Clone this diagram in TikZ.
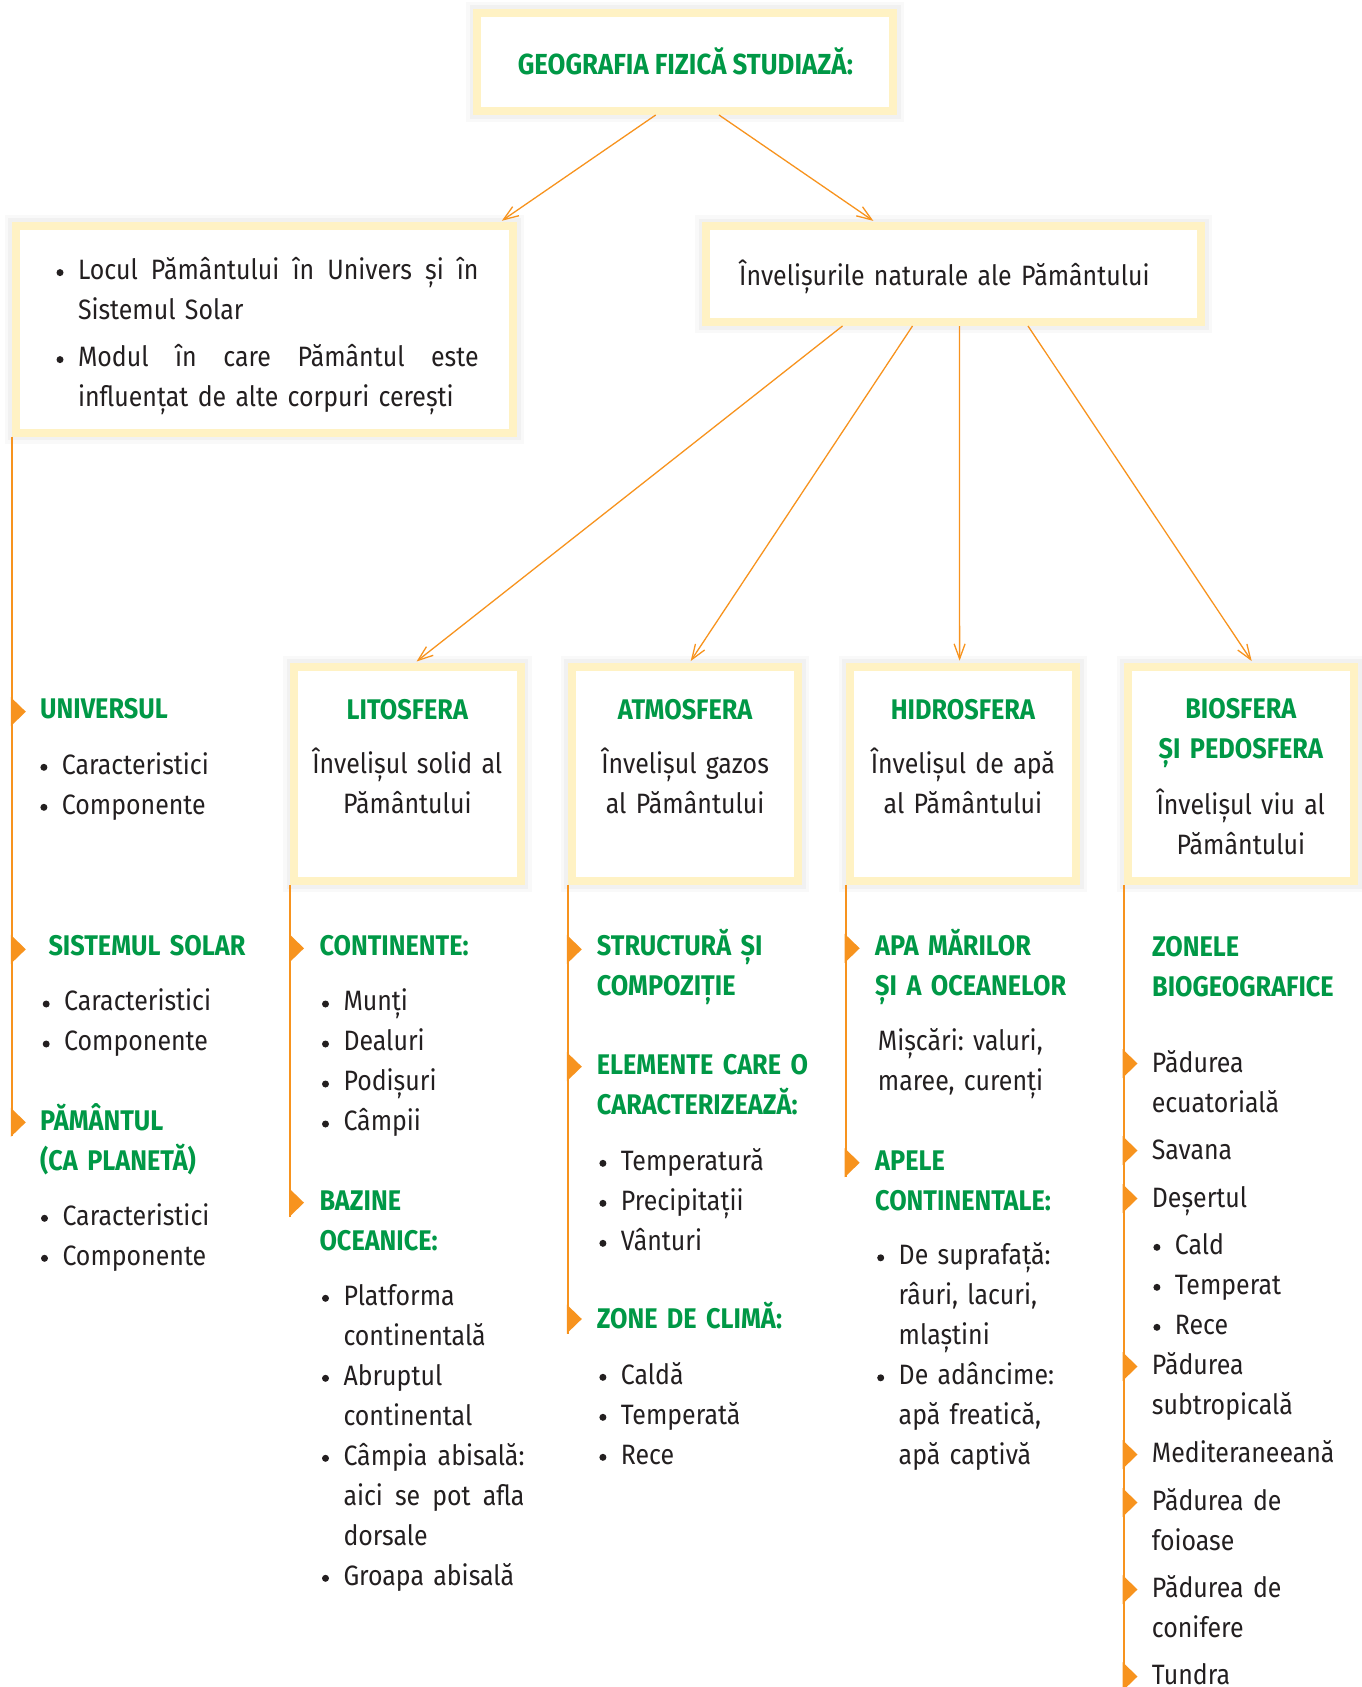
\documentclass[tikz,border=0pt]{standalone}
\usepackage{fontspec}
\setmainfont{Fira Sans}[FakeStretch=0.89]
\usetikzlibrary{arrows.meta}

\definecolor{geogreen}{RGB}{0,152,70}
\definecolor{geoorange}{RGB}{247,147,30}
\definecolor{boxyellow}{RGB}{255,242,196}
\definecolor{ink}{RGB}{35,31,32}

\newcommand\txfont{\fontsize{28}{40}\selectfont\frenchspacing}
\newcommand\hdfont{\fontsize{28.4}{40}\selectfont\bfseries\frenchspacing}
\newcommand\bl{\makebox[0pt][r]{\raisebox{3.2pt}{\tikz\fill[ink] (0,0) circle (3.5pt);}\hspace{14.5pt}}}

\tikzset{
  box/.style={draw=boxyellow, line width=8pt, fill=white, inner sep=0pt,
    preaction={draw=black, draw opacity=0.022, line width=22pt},
    preaction={draw=black, draw opacity=0.03, line width=15pt}},
  hd/.style={anchor=base west, inner sep=0pt, text width=450pt, align=left, text=geogreen, font=\hdfont},
  tx/.style={anchor=base west, inner sep=0pt, text width=450pt, align=left, text=ink, font=\txfont},
  hdc/.style={hd, anchor=base, text width=220pt, align=center},
  txc/.style={tx, anchor=base, text width=220pt, align=center},
  arr/.style={draw=geoorange, line width=1.3pt, shorten >=2pt, -{Straight Barb[length=15pt,width=11pt]}},
  ln/.style={draw=geoorange, line width=2pt},
}

\begin{document}
\begin{tikzpicture}[x=1pt,y=-1pt]
  \useasboundingbox (0,0) rectangle (1362,1687);

  % boxes
  \node[box, minimum width=416pt, minimum height=98.5pt, text=geogreen,
        font=\fontsize{29}{36}\selectfont\bfseries] (geo) at (685.4,61.75) {GEOGRAFIA FIZICĂ STUDIAZĂ:};
  \node[box, minimum width=497.4pt, minimum height=207pt] (loc) at (264.5,329.4) {};
  \node[box, minimum width=495pt, minimum height=96pt] (inv) at (953.5,274) {};
  \node[box, minimum width=226.5pt, minimum height=214.3pt] (lit) at (407.3,773.85) {};
  \node[box, minimum width=226.5pt, minimum height=214.3pt] (atm) at (685.1,773.85) {};
  \node[box, minimum width=226.5pt, minimum height=214.3pt] (hid) at (962.9,773.85) {};
  \node[box, minimum width=226.5pt, minimum height=214.3pt] (bio) at (1240.8,773.85) {};

  \node[tx] (loct) at (77.8,279.3) {\bl\makebox[400.6pt]{Locul\hfill Pământului\hfill în\hfill Univers\hfill și\hfill în}\\
    Sistemul Solar\\[7pt]
    \bl\makebox[400.6pt]{Modul\hfill în\hfill care\hfill Pământul\hfill este}\\
    influențat de alte corpuri cerești};
  \node[tx] (invt) at (739,285) {Învelișurile naturale ale Pământului};

  \node[hdc] (litt) at (407.3,719) {LITOSFERA};
  \node[txc] (litd) at (407.3,773.3) {Învelișul solid al\\Pământului};
  \node[hdc] (atmt) at (685.1,719) {ATMOSFERA};
  \node[txc] (atmd) at (685.1,773.3) {Învelișul gazos\\al Pământului};
  \node[hdc] (hidt) at (962.9,719) {HIDROSFERA};
  \node[txc] (hidd) at (962.9,773.3) {Învelișul de apă\\al Pământului};
  \node[hdc] (biot) at (1240.8,718.3) {BIOSFERA\\ȘI PEDOSFERA};
  \node[txc] (biod) at (1240.8,814) {Învelișul viu al\\Pământului};

  % arrows
  \draw[arr] ([xshift=-29.7pt]geo.south) -- ([xshift=-17pt]loc.north east);
  \draw[arr] ([xshift=33.6pt]geo.south) -- ([xshift=-78.5pt]inv.north);
  \draw[arr] ([xshift=-111pt]inv.south) -- ([xshift=7.7pt]lit.north);
  \draw[arr] ([xshift=-41pt]inv.south) -- ([xshift=4.5pt]atm.north);
  \draw[arr] ([xshift=6pt]inv.south) -- ([xshift=-3.3pt]hid.north);
  \draw[arr] ([xshift=74.5pt]inv.south) -- ([xshift=12pt]bio.north);

  % side lines
  \coordinate (locend) at (loc.south west |- 0,1136.3);
  \coordinate (litend) at (lit.south west |- 0,1216.7);
  \coordinate (atmend) at (atm.south west |- 0,1333.5);
  \coordinate (hidend) at (hid.south west |- 0,1176.7);
  \coordinate (bioend) at (bio.south west |- 0,1690);
  \draw[ln] (loc.south west) -- (locend);
  \draw[ln] (lit.south west) -- (litend);
  \draw[ln] (atm.south west) -- (atmend);
  \draw[ln] (hid.south west) -- (hidend);
  \draw[ln] (bio.south west) -- (bioend);

  \foreach \y in {711.7,949.3,1122.3}
    \fill[geoorange] (10.8,\y-14.5) -- ++(15,14.5) -- ++(-15,14.5) -- cycle;
  \foreach \y in {948.3,1202.7}
    \fill[geoorange] (289,\y-14.5) -- ++(15,14.5) -- ++(-15,14.5) -- cycle;
  \foreach \y in {949.3,1066.7,1319}
    \fill[geoorange] (566.8,\y-14.5) -- ++(15,14.5) -- ++(-15,14.5) -- cycle;
  \foreach \y in {948.3,1162.7}
    \fill[geoorange] (844.7,\y-14.5) -- ++(15,14.5) -- ++(-15,14.5) -- cycle;
  \foreach \y in {1063.5,1150.5,1198.5,1366.5,1454.5,1502.5,1589.5,1676.5}
    \fill[geoorange] (1122.5,\y-14.5) -- ++(15,14.5) -- ++(-15,14.5) -- cycle;

  % left column
  \node[hd] (univ) at (40,718.3) {UNIVERSUL};
  \node[tx] (univl) at (61.7,774) {\bl Caracteristici\\\bl Componente};
  \node[hd] (sist) at (48.3,955) {SISTEMUL SOLAR};
  \node[tx] (sistl) at (64,1010.7) {\bl Caracteristici\\\bl Componente};
  \node[hd] (pam) at (40,1130) {PĂMÂNTUL\\(CA PLANETĂ)};
  \node[tx] (paml) at (62.3,1225) {\bl Caracteristici\\\bl Componente};

  % litosfera
  \node[hd] (cont) at (319.3,955) {CONTINENTE:};
  \node[tx] (contl) at (343.3,1010.7) {\bl Munți\\\bl Dealuri\\\bl Podișuri\\\bl Câmpii};
  \node[hd] (baz) at (319.3,1210) {BAZINE\\OCEANICE:};
  \node[tx] (bazl) at (343.3,1305) {\bl Platforma\\continentală\\
    \bl Abruptul\\continental\\
    \bl\makebox[181pt]{Câmpia\hfill abisală:}\\\makebox[181pt]{aici\hfill se\hfill pot\hfill afla}\\dorsale\\
    \bl Groapa abisală};

  % atmosfera
  \node[hd] (str) at (596.7,955) {STRUCTURĂ ȘI\\COMPOZIȚIE};
  \node[hd] (elem) at (596.7,1074) {ELEMENTE CARE O\\CARACTERIZEAZĂ:};
  \node[tx] (eleml) at (620.7,1170) {\bl Temperatură\\\bl Precipitații\\\bl Vânturi};
  \node[hd] (zon) at (596.7,1328) {ZONE DE CLIMĂ:};
  \node[tx] (zonl) at (620.7,1384) {\bl Caldă\\\bl Temperată\\\bl Rece};

  % hidrosfera
  \node[hd] (apa) at (875,955) {APA MĂRILOR\\ȘI A OCEANELOR};
  \node[tx] (apad) at (877.7,1050) {Mișcări: valuri,\\maree, curenți};
  \node[hd] (apel) at (875,1170) {APELE\\CONTINENTALE:};
  \node[tx] (apell) at (898.5,1264.5) {\bl De suprafață:\\râuri, lacuri,\\mlaștini\\
    \bl De adâncime:\\apă freatică,\\apă captivă};

  % biosfera
  \node[hd] (zbg) at (1152,956) {ZONELE\\BIOGEOGRAFICE};
  \node[tx] (zbgl) at (1151.7,1072) {Pădurea\\ecuatorială\\[7pt]
    Savana\\[8pt]
    Deșertul\\[7pt]
    \hspace*{23pt}\bl Cald\\\hspace*{23pt}\bl Temperat\\\hspace*{23pt}\bl Rece\\
    Pădurea\\subtropicală\\[8pt]
    Mediteraneeană\\[8pt]
    Pădurea de\\foioase\\[7pt]
    Pădurea de\\conifere\\[7pt]
    Tundra};
\end{tikzpicture}
\end{document}
